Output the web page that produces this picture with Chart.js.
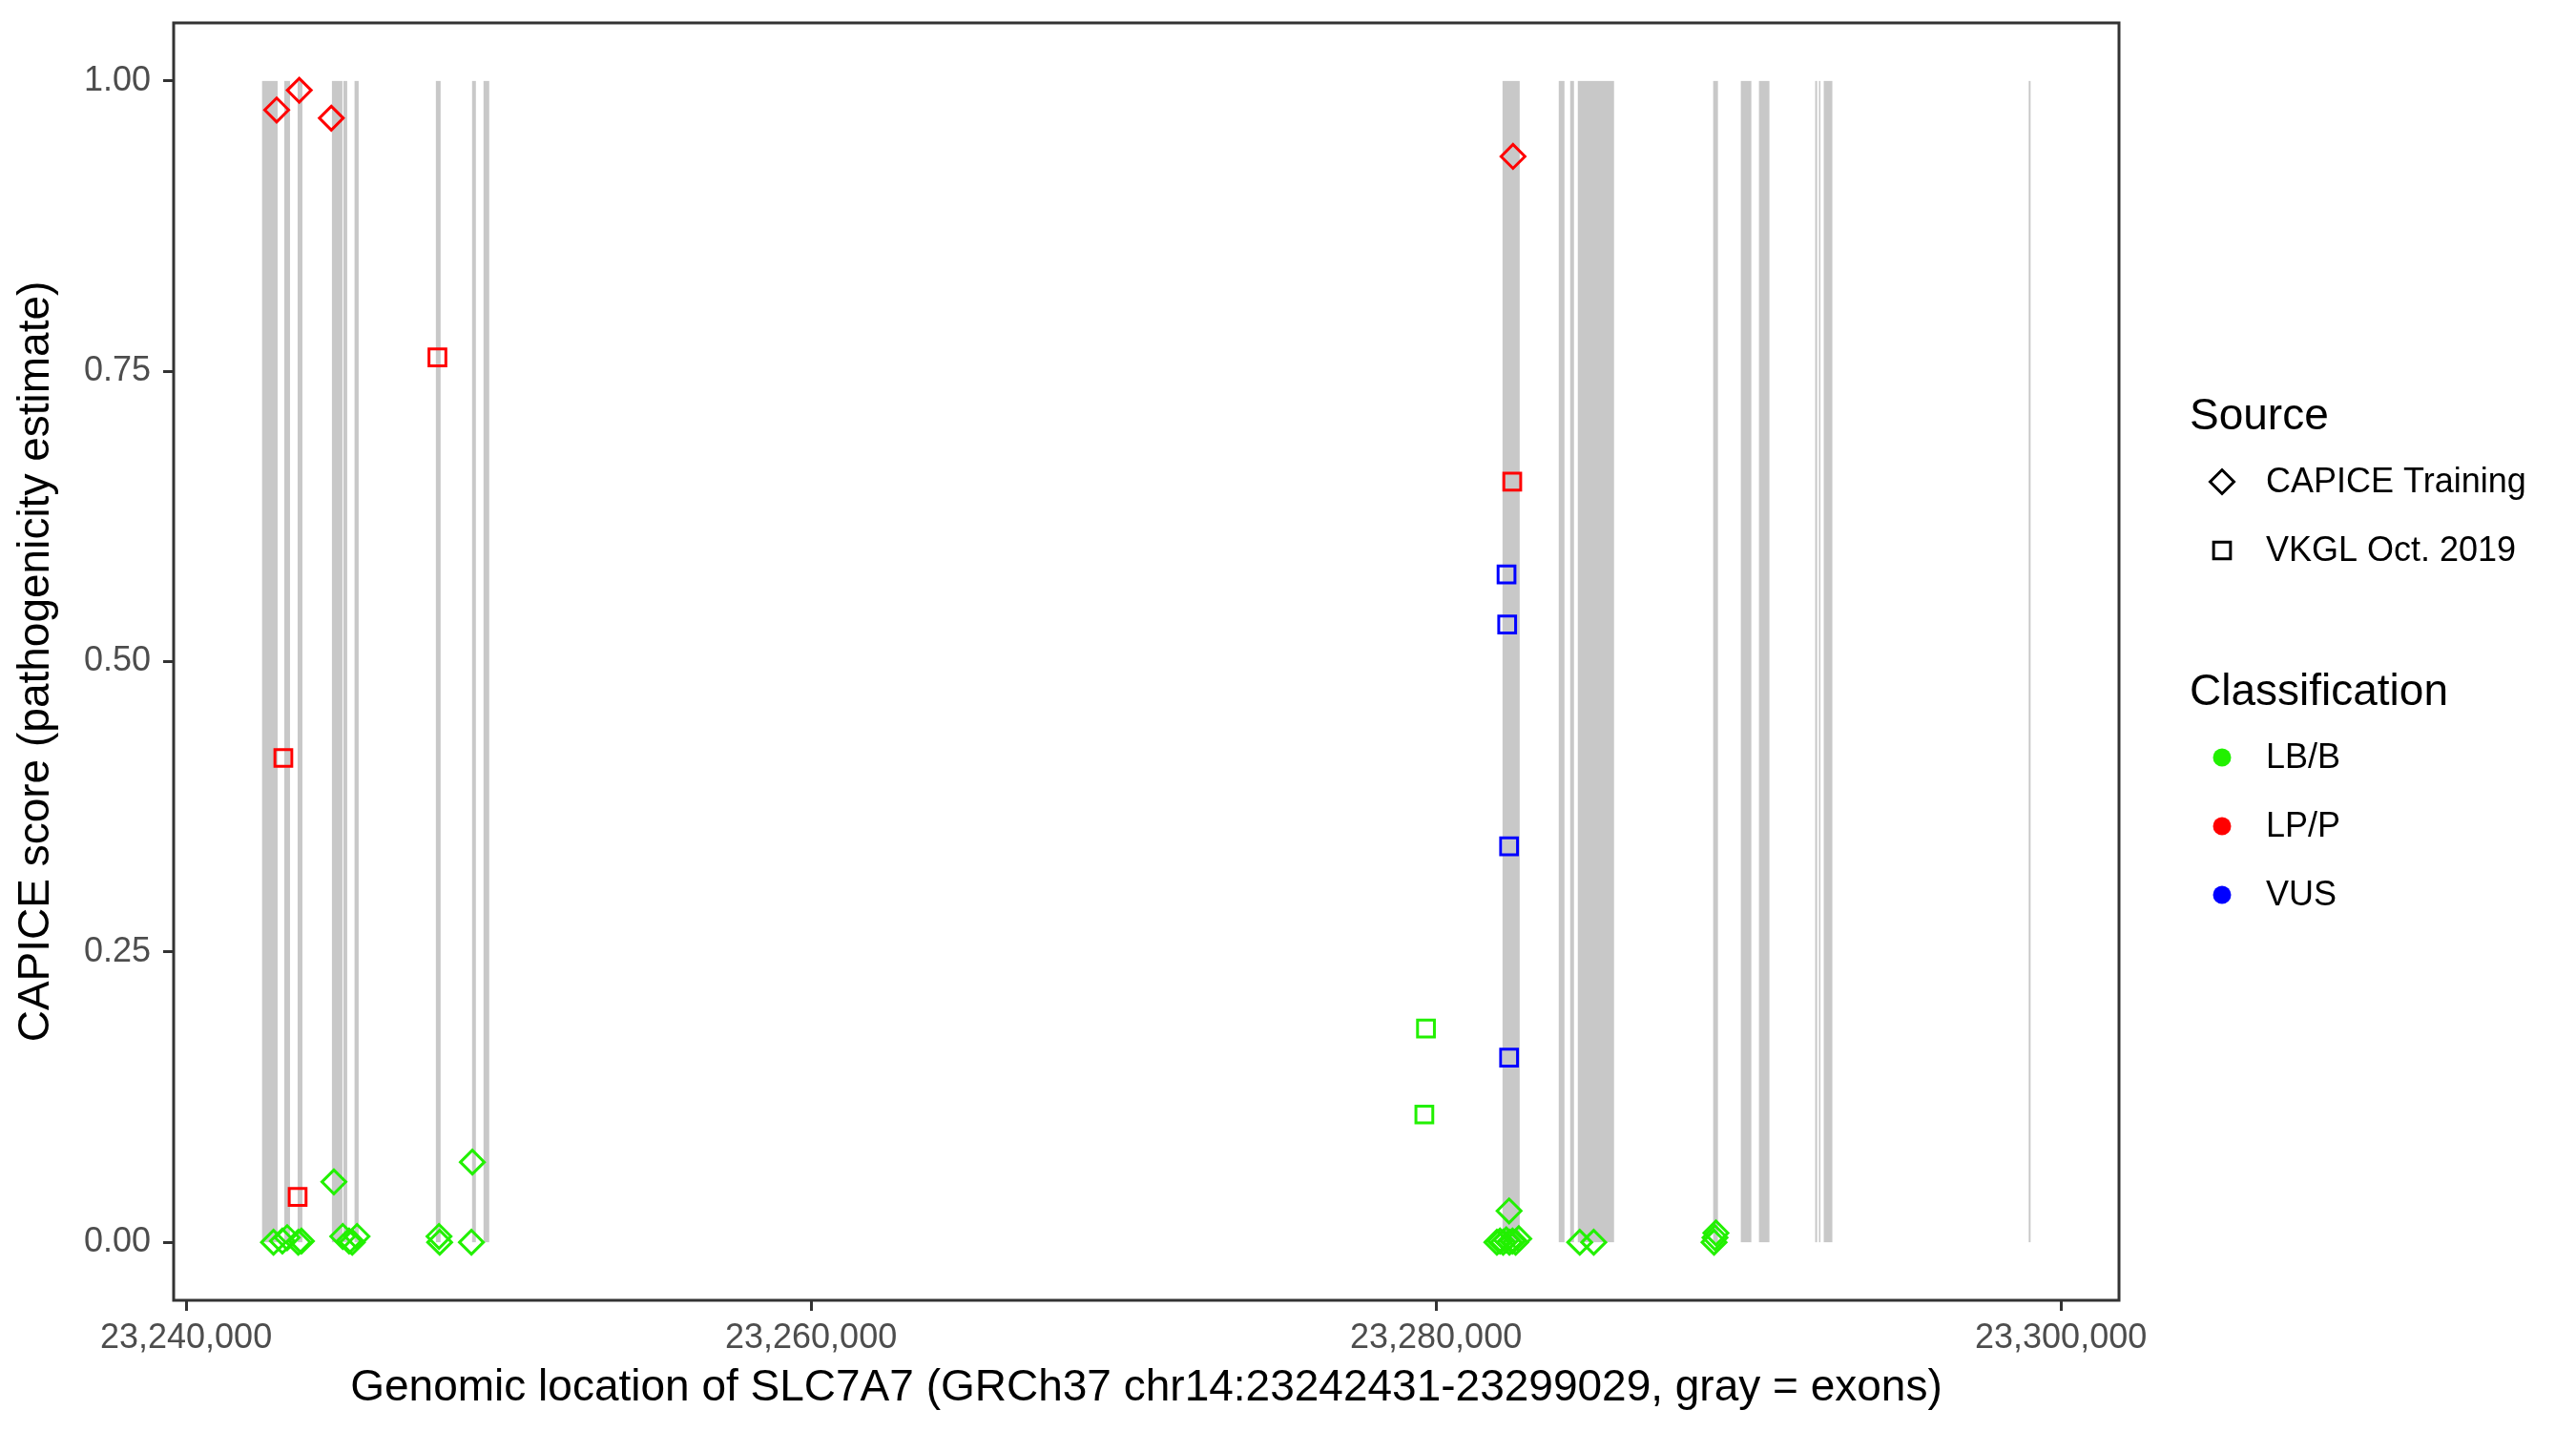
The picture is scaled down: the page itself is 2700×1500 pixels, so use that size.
<!DOCTYPE html>
<html lang="en">
<head>
  <meta charset="UTF-8" />
  <title>CAPICE scores along SLC7A7</title>
  <script src="https://cdn.jsdelivr.net/npm/chart.js"></script>
  <style>
    html, body { margin: 0; padding: 0; background: #fff; }
    #wrap { position: relative; width: 2700px; height: 1500px; }
  </style>
</head>
<body>
  <div id="wrap"><canvas id="capiceChart" width="2700" height="1500"></canvas></div>

  <script>
    // exons of SLC7A7 (GRCh37 chr14)
    const exonStart = [
      23242431, 23243142, 23243569, 23244667, 23245034, 23245390, 23247993, 23249152, 23249518,
      23282130, 23283929, 23284295, 23284539, 23288871, 23289756, 23290336, 23292136, 23292258,
      23292410, 23298970
    ];
    const exonEnd = [
      23242929, 23243325, 23243722, 23245003, 23245156, 23245522, 23248145, 23249274, 23249701,
      23282679, 23284112, 23284417, 23285699, 23289024, 23290093, 23290671, 23292197, 23292288,
      23292685, 23299029
    ];

    const xTicks = [23240000, 23260000, 23280000, 23300000];
    const yTicks = [0, 0.25, 0.5, 0.75, 1];

    // CAPICE Training variants (diamonds)
    const trainBenignPos = [
      23242797, 23243081, 23243234, 23243590, 23243691, 23244729, 23245013, 23245216, 23245318,
      23245470, 23248094, 23248115, 23249131, 23249161, 23281950, 23282050, 23282150, 23282250,
      23282340, 23282350, 23282450, 23282550, 23282650, 23284601, 23285049, 23288900, 23288930,
      23288960
    ];
    const trainBenignScore = [
      0.000, 0.001, 0.004, 0.000, 0.001, 0.052, 0.005, 0.001, 0.000,
      0.005, 0.005, 0.000, 0.000, 0.069, 0.000, 0.001, 0.000, 0.002,
      0.027, 0.000, 0.001, 0.000, 0.003, 0.000, 0.000, 0.000, 0.004,
      0.008
    ];
    const trainPathoPos = [23242898, 23243621, 23244647, 23282465];
    const trainPathoScore = [0.975, 0.992, 0.968, 0.935];

    // VKGL Oct. 2019 variants (squares)
    const vkglBenignPos = [23279680, 23279628];
    const vkglBenignScore = [0.184, 0.110];
    const vkglPathoPos = [23248043, 23243112, 23243569, 23282441];
    const vkglPathoScore = [0.762, 0.417, 0.039, 0.655];
    const vkglVusPos = [23282258, 23282279, 23282340, 23282340];
    const vkglVusScore = [0.575, 0.532, 0.341, 0.159];

    const GREEN = '#22f000';
    const RED = '#ff0000';
    const BLUE = '#0000ff';
    const FONT = "'Liberation Sans', Arial, Helvetica, sans-serif";
    Chart.defaults.font.family = FONT;

    function pts(xs, ys) {
      return xs.map((x, i) => ({ x: x, y: ys[i] }));
    }

    function series(label, xs, ys, color, shape) {
      return {
        label: label,
        data: pts(xs, ys),
        pointStyle: shape,
        pointRadius: 12.5,
        pointHoverRadius: 12.5,
        pointBorderWidth: 3,
        borderColor: color,
        backgroundColor: 'rgba(0,0,0,0)'
      };
    }

    // gray exon bands, drawn under the points
    const exonBands = {
      id: 'exonBands',
      beforeDatasetsDraw(chart) {
        const { ctx, scales: { x, y } } = chart;
        const top = y.getPixelForValue(1);
        const bottom = y.getPixelForValue(0);
        ctx.save();
        ctx.fillStyle = '#c8c8c8';
        exonStart.forEach((s, i) => {
          const x0 = x.getPixelForValue(s);
          const x1 = x.getPixelForValue(exonEnd[i]);
          ctx.fillRect(x0, top, Math.max(x1 - x0, 1.5), bottom - top);
        });
        ctx.restore();
      }
    };

    // panel border like theme_bw
    const panelBorder = {
      id: 'panelBorder',
      afterDraw(chart) {
        const { ctx, chartArea: a } = chart;
        ctx.save();
        ctx.strokeStyle = '#333333';
        ctx.lineWidth = 3;
        ctx.strokeRect(a.left, a.top, a.right - a.left, a.bottom - a.top);
        ctx.restore();
      }
    };

    // two legends on the right: Source (shape) and Classification (colour)
    const sideLegend = {
      id: 'sideLegend',
      afterDraw(chart) {
        const ctx = chart.ctx;
        const keyX = 2329, textX = 2375, titleX = 2295;
        ctx.save();
        ctx.textBaseline = 'middle';
        ctx.textAlign = 'left';
        ctx.fillStyle = '#000';

        ctx.font = '46px ' + FONT;
        ctx.fillText('Source', titleX, 437);
        ctx.fillText('Classification', titleX, 726);

        ctx.font = '36px ' + FONT;
        const shapes = [['CAPICE Training', 'rectRot', 505], ['VKGL Oct. 2019', 'rect', 577]];
        shapes.forEach(([txt, style, yy]) => {
          ctx.strokeStyle = '#000';
          ctx.fillStyle = 'rgba(0,0,0,0)';
          ctx.lineWidth = 3;
          Chart.helpers.drawPoint(ctx, { pointStyle: style, radius: 12.5, borderWidth: 3 }, keyX, yy);
          ctx.fillStyle = '#000';
          ctx.fillText(txt, textX, yy + 1);
        });

        const classes = [['LB/B', GREEN, 794], ['LP/P', RED, 866], ['VUS', BLUE, 938]];
        classes.forEach(([txt, col, yy]) => {
          ctx.fillStyle = col;
          ctx.beginPath();
          ctx.arc(keyX, yy, 9.5, 0, Math.PI * 2);
          ctx.fill();
          ctx.fillStyle = '#000';
          ctx.fillText(txt, textX, yy + 1);
        });
        ctx.restore();
      }
    };

    const ctx = document.getElementById('capiceChart').getContext('2d');
    const capiceChart = new Chart(ctx, {
      type: 'scatter',
      data: {
        datasets: [
          series('CAPICE Training LB/B', trainBenignPos, trainBenignScore, GREEN, 'rectRot'),
          series('VKGL LB/B', vkglBenignPos, vkglBenignScore, GREEN, 'rect'),
          series('VKGL VUS', vkglVusPos, vkglVusScore, BLUE, 'rect'),
          series('CAPICE Training LP/P', trainPathoPos, trainPathoScore, RED, 'rectRot'),
          series('VKGL LP/P', vkglPathoPos, vkglPathoScore, RED, 'rect')
        ]
      },
      options: {
        responsive: false,
        animation: false,
        layout: { padding: { top: 24, right: 479, bottom: 0, left: 0 } },
        plugins: {
          legend: { display: false },
          tooltip: { enabled: false }
        },
        scales: {
          x: {
            type: 'linear',
            min: 23239601,
            max: 23301859,
            afterBuildTicks: s => { s.ticks = xTicks.map(v => ({ value: v })); },
            afterFit: s => { s.height = 137; s.paddingLeft = 0; s.paddingRight = 0; },
            ticks: {
              color: '#4d4d4d',
              font: { size: 36 },
              padding: 7,
              maxRotation: 0,
              autoSkip: false,
              callback: v => Number(v).toLocaleString('en-US')
            },
            grid: { drawOnChartArea: false, tickLength: 11, tickWidth: 3, tickColor: '#333333' },
            border: { display: false },
            title: {
              display: true,
              text: 'Genomic location of SLC7A7 (GRCh37 chr14:23242431-23299029, gray = exons)',
              color: '#000',
              font: { size: 46 },
              padding: { top: 0, bottom: 17 }
            }
          },
          y: {
            min: -0.05,
            max: 1.05,
            afterBuildTicks: s => { s.ticks = yTicks.map(v => ({ value: v })); },
            afterFit: s => { s.width = 182; s.paddingTop = 0; s.paddingBottom = 0; },
            ticks: {
              color: '#4d4d4d',
              font: { size: 36 },
              padding: 13,
              callback: v => Number(v).toFixed(2)
            },
            grid: { drawOnChartArea: false, tickLength: 11, tickWidth: 3, tickColor: '#333333' },
            border: { display: false },
            title: {
              display: true,
              text: 'CAPICE score (pathogenicity estimate)',
              color: '#000',
              font: { size: 46 },
              padding: { top: 11, bottom: 0 }
            }
          }
        }
      },
      plugins: [exonBands, panelBorder, sideLegend]
    });
  </script>
</body>
</html>
